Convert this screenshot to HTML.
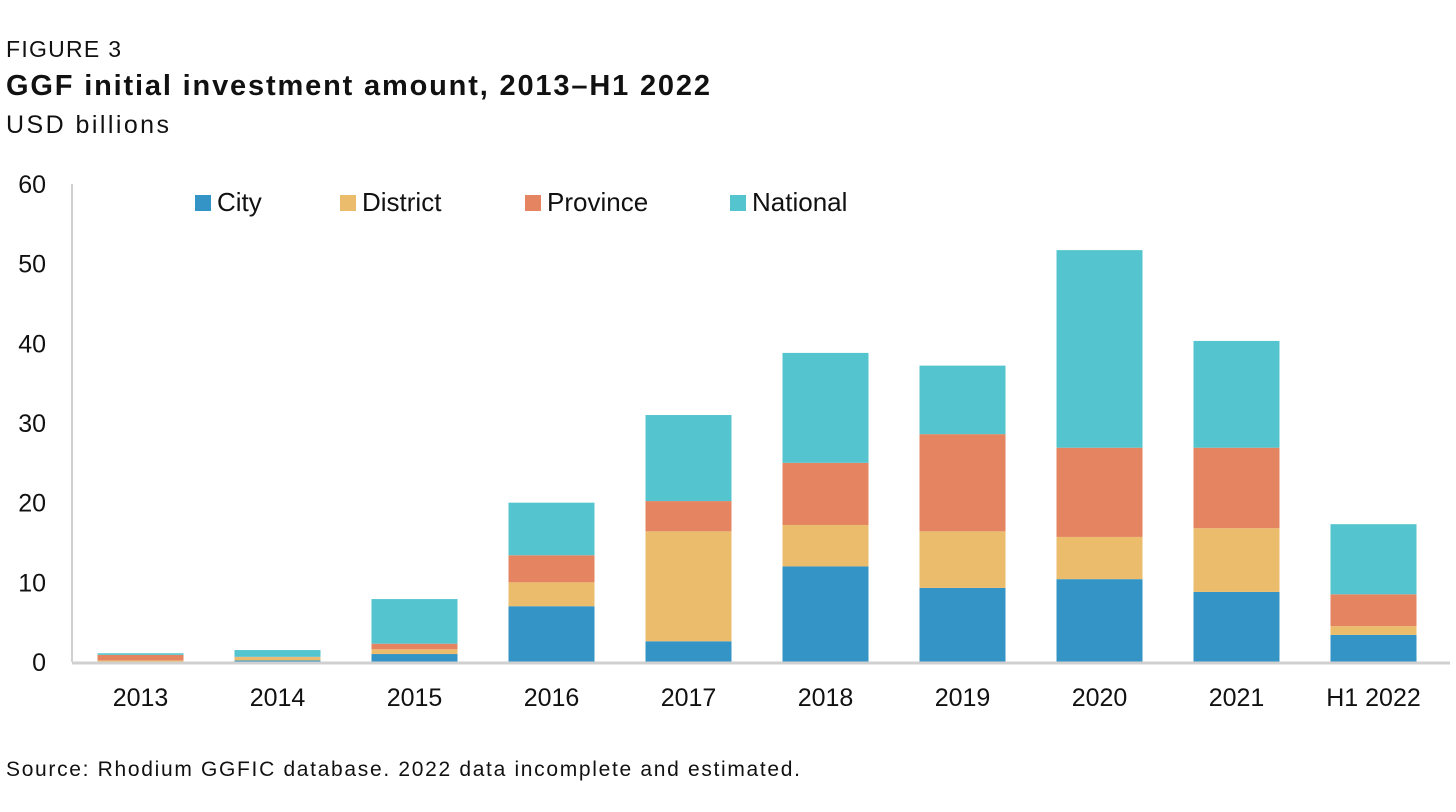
<!DOCTYPE html>
<html><head><meta charset="utf-8"><style>
body{margin:0;background:#fff;font-family:"Liberation Sans",Arial,sans-serif;}
svg text{font-family:"Liberation Sans",Arial,sans-serif;}
</style></head><body>
<svg id="c" width="1456" height="807">
<text x="6" y="57" font-size="23" fill="#111" textLength="115">FIGURE 3</text>
<text x="6" y="95" font-size="29" font-weight="bold" fill="#111" textLength="704">GGF initial investment amount, 2013–H1 2022</text>
<text x="6" y="133" font-size="25" fill="#111" textLength="163">USD billions</text>
<text x="6" y="776" font-size="21" fill="#111" textLength="794">Source: Rhodium GGFIC database. 2022 data incomplete and estimated.</text>
<g id="plot"></g>
</svg>
<script>
const categories=["2013","2014","2015","2016","2017","2018","2019","2020","2021","H1 2022"];
const city=[0.05,0.2,1.0,7.0,2.6,12.0,9.3,10.4,8.8,3.4];
const district=[0.15,0.4,0.6,3.0,13.8,5.2,7.1,5.3,8.0,1.1];
const province=[0.7,0.05,0.7,3.4,3.8,7.8,12.2,11.2,10.1,4.0];
const national=[0.2,0.85,5.6,6.6,10.8,13.8,8.6,24.8,13.4,8.8];
const yTicks=[0,10,20,30,40,50,60];
const seriesNames=["City","District","Province","National"];
const colors=["#3494c6","#ebbc6c","#e48461","#54c5cf"];
const series=[city,district,province,national];
const NS="http://www.w3.org/2000/svg";
const g=document.getElementById('plot');
const y0=662,pxPer=478/60,x0=72,step=137,bw=86;
const y=v=>y0-v*pxPer;
const xc=i=>x0+68.5+i*step;
function mk(t,a){const e=document.createElementNS(NS,t);for(const k in a)e.setAttribute(k,a[k]);g.appendChild(e);return e;}
yTicks.forEach(t=>{const e=mk('text',{x:46,y:y(t)+9,'font-size':25,'text-anchor':'end',fill:'#111'});e.textContent=t;

});
const ax=mk('line',{x1:x0,y1:184,x2:x0,y2:y0,stroke:'#d0d0d0','stroke-width':2});


categories.forEach((c,i)=>{let base=0;
series.forEach((s,j)=>{const v=s[i];const r=mk('rect',{x:xc(i)-bw/2,y:y(base+v),width:bw,height:v*pxPer,fill:colors[j]});


base+=v;});
const t=mk('text',{x:xc(i),y:706,'font-size':25,'text-anchor':'middle',fill:'#111'});t.textContent=c;

});
const xa=mk('line',{x1:x0,y1:y0+1,x2:1450,y2:y0+1,stroke:'#d0d0d0','stroke-width':3});


const lx=[195,340,525,730];
seriesNames.forEach((n,j)=>{const r=mk('rect',{x:lx[j],y:195,width:16,height:16,fill:colors[j]});


const t=mk('text',{x:lx[j]+22,y:211,'font-size':26,fill:'#111'});t.textContent=n;

});
</script>
</body></html>
